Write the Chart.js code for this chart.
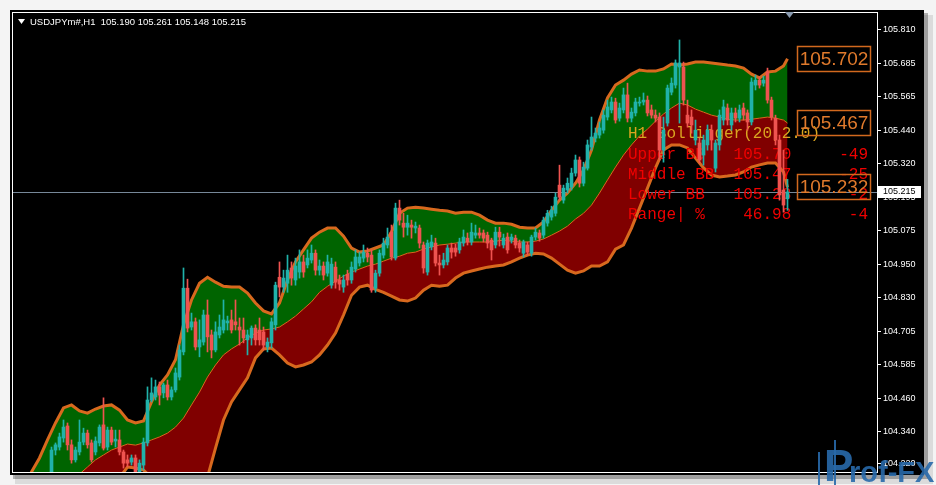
<!DOCTYPE html>
<html><head><meta charset="utf-8">
<script src="https://cdn.jsdelivr.net/npm/chart.js@4.4.0/dist/chart.umd.min.js"></script>
<style>html,body{margin:0;padding:0;background:#f0f0f0;overflow:hidden}canvas{display:block}</style>
</head><body>
<canvas id="c" width="936" height="485"></canvas>
<script>
// ---- DATA ----
const symbolTitle = 'USDJPYm#,H1';
const headerOHLC = ['105.190','105.261','105.148','105.215'];
const bidPrice = 105.215;
const priceTicks = [105.810,105.685,105.565,105.440,105.320,105.195,105.075,104.950,104.830,104.705,104.585,104.460,104.340,104.220];
const yMin = 104.1907, yMax = 105.8696;

const open = [104.00,104.02,104.05,104.03,104.08,104.11,104.09,104.14,104.13,
104.187,104.271,104.282,104.315,104.359,104.290,104.235,104.264,104.300,104.333,
104.297,104.264,104.297,104.363,104.282,104.344,104.304,104.308,104.264,104.235,
104.227,104.242,104.187,104.216,104.297,104.454,104.465,104.502,104.480,104.509,
104.465,104.491,104.538,104.630,104.863,104.721,104.740,104.648,104.666,104.765,
104.692,104.637,104.692,104.710,104.736,104.747,104.740,104.721,104.710,104.674,
104.681,104.717,104.710,104.703,104.648,104.663,104.729,104.903,104.867,104.881,
104.937,104.893,104.922,104.959,104.948,104.966,104.991,104.929,104.944,104.918,
104.874,104.940,104.893,104.867,104.914,104.893,104.933,104.955,104.973,104.991,
104.984,104.863,104.918,104.984,105.021,105.068,104.973,105.156,105.101,105.086,
105.094,105.083,105.083,105.021,104.922,105.014,105.028,104.955,104.948,104.959,
105.010,105.010,105.003,105.028,105.046,105.032,105.057,105.065,105.065,105.057,
105.039,105.021,105.068,105.021,105.050,105.039,105.046,105.028,104.991,105.021,
104.991,105.050,105.065,105.057,105.101,105.123,105.137,105.240,105.185,105.222,
105.233,105.284,105.332,105.247,105.302,105.379,105.412,105.423,105.441,105.489,
105.515,105.544,105.485,105.515,105.570,105.485,105.504,105.540,105.544,105.551,
105.515,105.496,105.489,105.368,105.467,105.580,105.606,105.672,105.672,105.496,
105.489,105.405,105.394,105.350,105.387,105.441,105.302,105.387,105.478,105.522,
105.460,105.504,105.485,105.522,105.504,105.471,105.606,105.624,105.613,105.654,
105.551,105.485,105.405,105.222,105.190];

const high = [104.04,104.06,104.08,104.09,104.12,104.14,104.15,104.17,104.18,
104.282,104.297,104.333,104.381,104.370,104.308,104.282,104.381,104.351,104.344,
104.308,104.319,104.363,104.462,104.355,104.355,104.344,104.344,104.271,104.253,
104.253,104.253,104.235,104.315,104.502,104.535,104.527,104.520,104.516,104.527,
104.502,104.571,104.655,104.937,104.896,104.772,104.754,104.747,104.783,104.820,
104.710,104.740,104.765,104.820,104.761,104.783,104.820,104.754,104.754,104.710,
104.725,104.729,104.754,104.721,104.681,104.754,104.885,104.959,104.929,104.984,
104.959,104.973,105.003,104.984,105.003,105.021,105.003,104.966,104.959,104.984,
104.973,104.959,104.911,104.911,104.929,104.959,105.003,104.995,105.021,105.010,
105.003,104.929,105.003,105.046,105.083,105.094,105.174,105.185,105.137,105.130,
105.112,105.105,105.094,105.032,105.039,105.057,105.046,104.984,104.991,105.021,
105.028,105.024,105.046,105.076,105.065,105.101,105.094,105.083,105.076,105.068,
105.046,105.086,105.086,105.061,105.065,105.061,105.057,105.039,105.039,105.032,
105.057,105.083,105.076,105.123,105.148,105.163,105.211,105.313,105.240,105.266,
105.302,105.350,105.343,105.324,105.405,105.489,105.449,105.471,105.515,105.551,
105.562,105.558,105.540,105.595,105.613,105.522,105.558,105.562,105.577,105.566,
105.533,105.515,105.504,105.489,105.606,105.632,105.698,105.771,105.690,105.551,
105.515,105.478,105.412,105.423,105.460,105.460,105.405,105.515,105.551,105.537,
105.522,105.522,105.533,105.540,105.515,105.632,105.643,105.635,105.639,105.668,
105.562,105.496,105.423,105.368,105.261];

const low = [103.97,104.00,104.01,104.02,104.06,104.07,104.08,104.11,104.12,
104.169,104.253,104.271,104.300,104.271,104.223,104.227,104.253,104.290,104.278,
104.227,104.253,104.286,104.271,104.271,104.290,104.282,104.253,104.205,104.209,
104.216,104.169,104.169,104.198,104.286,104.447,104.454,104.436,104.462,104.454,
104.454,104.483,104.527,104.619,104.703,104.710,104.637,104.612,104.655,104.630,
104.608,104.630,104.681,104.699,104.710,104.699,104.710,104.655,104.663,104.619,
104.655,104.655,104.655,104.637,104.630,104.644,104.710,104.831,104.848,104.848,
104.874,104.874,104.900,104.903,104.937,104.955,104.911,104.911,104.893,104.907,
104.863,104.863,104.856,104.848,104.874,104.881,104.922,104.944,104.959,104.959,
104.848,104.848,104.907,104.973,105.010,104.966,104.966,105.094,105.050,105.057,
105.046,105.065,105.010,104.918,104.911,105.003,104.944,104.911,104.937,104.948,
104.973,104.980,104.991,105.017,105.021,105.021,105.046,105.046,105.032,105.010,
104.966,105.010,105.017,105.010,104.991,105.028,105.010,104.995,104.977,104.984,
104.980,105.039,105.035,105.046,105.090,105.112,105.127,105.185,105.174,105.211,
105.222,105.273,105.233,105.237,105.295,105.368,105.398,105.412,105.430,105.478,
105.504,105.467,105.474,105.504,105.471,105.471,105.493,105.529,105.533,105.493,
105.485,105.471,105.332,105.324,105.456,105.570,105.595,105.467,105.533,105.452,
105.430,105.387,105.321,105.313,105.368,105.368,105.288,105.368,105.460,105.460,
105.441,105.471,105.471,105.478,105.441,105.460,105.588,105.595,105.602,105.540,
105.478,105.387,105.185,105.141,105.148];

const close = [104.02,104.05,104.03,104.08,104.11,104.09,104.14,104.13,104.17,
104.271,104.290,104.319,104.355,104.290,104.235,104.271,104.300,104.333,104.290,
104.235,104.304,104.355,104.278,104.344,104.300,104.311,104.264,104.223,104.223,
104.242,104.187,104.223,104.300,104.454,104.480,104.502,104.472,104.509,104.465,
104.491,104.553,104.637,104.863,104.717,104.740,104.648,104.674,104.765,104.685,
104.637,104.703,104.721,104.747,104.743,104.710,104.729,104.710,104.681,104.692,
104.717,104.674,104.674,104.655,104.666,104.740,104.874,104.867,104.900,104.929,
104.900,104.944,104.959,104.922,104.973,104.991,104.929,104.944,104.911,104.959,
104.951,104.885,104.878,104.893,104.893,104.940,104.977,104.977,104.995,104.977,
104.856,104.918,104.991,105.028,105.050,104.977,105.156,105.112,105.086,105.101,
105.086,105.090,105.028,104.937,105.028,105.032,104.955,104.948,104.966,105.010,
104.995,104.995,105.032,105.050,105.032,105.068,105.065,105.057,105.046,105.028,
105.003,105.068,105.050,105.046,105.003,105.050,105.021,105.010,105.032,104.995,
105.050,105.068,105.046,105.112,105.137,105.148,105.196,105.196,105.229,105.247,
105.284,105.332,105.247,105.306,105.387,105.416,105.430,105.449,105.496,105.526,
105.544,105.478,105.522,105.570,105.485,105.507,105.544,105.544,105.551,105.504,
105.496,105.485,105.368,105.441,105.595,105.613,105.687,105.687,105.551,105.467,
105.460,105.441,105.332,105.405,105.441,105.405,105.394,105.496,105.526,105.478,
105.504,105.485,105.515,105.496,105.471,105.617,105.624,105.606,105.624,105.551,
105.489,105.405,105.204,105.167,105.215];

const bandX = [0,2,4,6,8,10,12,14,16,18,20,22,24,26,28,30,32,34,36,38,40,42,44,46,48,50,52,54,56,58,
60,62,64,66,68,70,72,74,76,78,80,82,84,86,88,90,92,94,96,98,100,102,104,106,108,110,112,114,116,118,
120,122,124,126,128,130,132,134,136,138,140,142,144,146,148,150,152,154,156,158,160,162,164,166,168,170,
172,174,176,178,180,182,184,186,188,190,192,193];

const upperBB = [104.051,104.125,104.191,104.242,104.308,104.370,104.425,104.436,104.414,104.406,
104.421,104.432,104.436,104.417,104.381,104.370,104.377,104.447,104.509,104.546,
104.601,104.729,104.820,104.881,104.903,104.885,104.870,104.867,104.867,104.845,
104.809,104.780,104.769,104.809,104.893,104.959,105.003,105.046,105.068,105.083,
105.083,105.053,105.010,104.995,104.999,105.010,105.021,105.068,105.137,105.156,
105.159,105.156,105.152,105.148,105.145,105.137,105.141,105.141,105.130,105.112,
105.101,105.101,105.097,105.086,105.083,105.083,105.105,105.148,105.185,105.211,
105.247,105.295,105.368,105.478,105.559,105.606,105.624,105.646,105.661,105.657,
105.657,105.665,105.683,105.679,105.683,105.690,105.690,105.687,105.683,105.679,
105.676,105.668,105.646,105.632,105.654,105.657,105.676,105.702];

const middleBB = [103.978,104.008,104.033,104.059,104.088,104.114,104.136,104.161,104.183,104.209,
104.235,104.253,104.271,104.282,104.293,104.289,104.297,104.308,104.319,104.333,
104.355,104.388,104.436,104.483,104.538,104.582,104.619,104.641,104.659,104.681,
104.699,104.710,104.714,104.721,104.740,104.761,104.787,104.813,104.848,104.870,
104.889,104.907,104.922,104.933,104.944,104.951,104.962,104.973,104.980,104.991,
104.995,105.006,105.014,105.021,105.024,105.028,105.032,105.032,105.032,105.032,
105.035,105.039,105.035,105.032,105.032,105.035,105.043,105.057,105.072,105.090,
105.116,105.137,105.167,105.211,105.259,105.306,105.350,105.387,105.420,105.445,
105.474,105.500,105.522,105.540,105.533,105.518,105.507,105.496,105.489,105.481,
105.478,105.478,105.481,105.485,105.489,105.485,105.478,105.467];

const lowerBB = [103.905,103.890,103.876,103.876,103.869,103.858,103.847,103.887,103.953,104.011,
104.048,104.073,104.106,104.169,104.209,104.205,104.198,104.169,104.128,104.121,
104.110,104.048,104.051,104.088,104.172,104.278,104.381,104.447,104.491,104.535,
104.608,104.641,104.644,104.619,104.589,104.575,104.582,104.593,104.619,104.655,
104.699,104.765,104.837,104.867,104.874,104.859,104.848,104.834,104.820,104.816,
104.827,104.856,104.874,104.870,104.874,104.900,104.918,104.926,104.933,104.940,
104.944,104.948,104.959,104.973,104.984,104.991,104.988,104.973,104.951,104.929,
104.918,104.926,104.944,104.944,104.959,105.006,105.021,105.083,105.156,105.229,
105.303,105.369,105.387,105.387,105.376,105.339,105.303,105.277,105.270,105.273,
105.277,105.288,105.306,105.314,105.321,105.321,105.288,105.232];

const boxValues = [105.702, 105.467, 105.232];
const infoTitle = 'H1 Bollinger(20,2.0)';
const infoLabels = ['Upper BB','Middle BB','Lower BB','Range| %'];
const infoValues = ['105.70','105.47','105.23','46.98'];
const infoChanges = ['-49','-25','-2','-4'];

// ---- STYLE ----
const BULL = '#20B2AA', BEAR = '#EF5350';
const BAND = '#D8691E';
const candleColor = i => close[i] >= open[i] ? BULL : BEAR;
const wickData = open.map((_, i) => ({x: i, y: [low[i], high[i]]}));
const bodyData = open.map((_, i) => ({x: i, y: [open[i], close[i]]}));
const pts = arr => bandX.map((x, k) => ({x: x, y: arr[k]}));

const mt4 = {
  id: 'mt4',
  beforeDraw(chart) {
    const c = chart.ctx, a = chart.chartArea;
    c.save();
    c.fillStyle = '#f4f4f4'; c.fillRect(0, 0, chart.width, chart.height);
    c.fillStyle = 'rgba(0,0,0,0.28)'; c.fillRect(13, 13, 915, 466);
    c.fillStyle = 'rgba(0,0,0,0.10)'; c.fillRect(15, 15, 918, 469);
    c.fillStyle = '#000'; c.fillRect(10, 10, 914, 465);
    c.fillStyle = '#ffffff';
    c.fillRect(a.left - 1, a.top - 1, a.right - a.left + 2, 1);
    c.fillRect(a.left - 1, a.top - 1, 1, a.bottom - a.top + 2);
    c.fillRect(a.left - 1, a.bottom, a.right - a.left + 2, 1);
    c.fillRect(a.right, a.top - 1, 1, a.bottom - a.top + 2);
    c.restore();
  },
  beforeDatasetsDraw(chart) {
    const c = chart.ctx, a = chart.chartArea;
    const y = Math.round(chart.scales.y.getPixelForValue(bidPrice)) + 0.5;
    c.save();
    c.strokeStyle = '#778899'; c.lineWidth = 1;
    c.beginPath(); c.moveTo(a.left, y); c.lineTo(a.right, y); c.stroke();
    c.restore();
  },
  beforeDatasetDraw(chart, args) {
    if (args.index !== 3) return;
    const c = chart.ctx;
    c.save();
    c.font = '16px "Liberation Mono"';
    c.textBaseline = 'middle'; c.textAlign = 'left';
    c.fillStyle = '#DAA520';
    c.fillText(infoTitle, 628, 134);
    c.fillStyle = '#F00000';
    infoLabels.forEach((lab, k) => {
      const s = lab.padEnd(11) + infoValues[k].padStart(6) + infoChanges[k].padStart(8);
      c.fillText(s, 628, 155 + 20 * k);
    });
    c.restore();
  },
  afterDraw(chart) {
    const c = chart.ctx, ys = chart.scales.y;
    c.save();
    // price boxes
    c.font = '19px "Liberation Sans"';
    c.textAlign = 'center'; c.textBaseline = 'middle';
    boxValues.forEach(v => {
      const y = Math.round(ys.getPixelForValue(v));
      c.strokeStyle = '#D2691E'; c.lineWidth = 1.5;
      c.strokeRect(797.5, y - 12.5, 73, 25);
      c.fillStyle = '#E07A2C';
      c.fillText(v.toFixed(3), 834, y + 1);
    });
    // bid label on axis
    const yb = Math.round(ys.getPixelForValue(bidPrice));
    c.fillStyle = '#ffffff'; c.fillRect(878, yb - 6, 43, 12);
    c.fillStyle = '#000000'; c.font = '9px "Liberation Sans"';
    c.textAlign = 'left'; c.fillText(bidPrice.toFixed(3), 883, yb);
    // header
    c.fillStyle = '#ffffff';
    c.beginPath(); c.moveTo(18, 19); c.lineTo(25, 19); c.lineTo(21.5, 24); c.closePath(); c.fill();
    c.font = '9.5px "Liberation Sans"'; c.textBaseline = 'middle';
    c.fillText(symbolTitle + '  ' + headerOHLC.join(' '), 30, 22);
    // chart shift marker
    c.fillStyle = '#8a9bb0';
    c.beginPath(); c.moveTo(785, 12); c.lineTo(794, 12); c.lineTo(789.5, 18); c.closePath(); c.fill();
    // watermark
    c.textBaseline = 'alphabetic';
    c.fillStyle = 'rgba(40,105,170,0.9)';
    c.fillRect(818, 452, 2, 33);
    c.fillRect(834, 440, 2, 45);
    c.font = 'bold 44px "Liberation Sans"'; c.fillText('P', 824, 481);
    c.font = 'bold 29px "Liberation Sans"'; c.fillText('rof-FX', 849, 482);
    c.restore();
  }
};

Chart.defaults.font.family = '"Liberation Sans", Arial, sans-serif';
new Chart(document.getElementById('c'), {
  type: 'bar',
  data: {
    datasets: [
      {type: 'line', data: pts(upperBB), borderColor: BAND, borderWidth: 3, pointRadius: 0, tension: 0,
       fill: {target: '+1', above: '#006400', below: '#006400'}, order: 12, clip: 0},
      {type: 'line', data: pts(middleBB), borderColor: BAND, borderWidth: 1, pointRadius: 0, tension: 0,
       fill: {target: '+1', above: '#800000', below: '#800000'}, order: 11, clip: 0},
      {type: 'line', data: pts(lowerBB), borderColor: BAND, borderWidth: 3, pointRadius: 0, tension: 0,
       fill: false, order: 10, clip: 0},
      {type: 'bar', data: wickData, backgroundColor: ctx => candleColor(ctx.dataIndex), borderWidth: 0,
       barThickness: 1, grouped: false, order: 1, clip: 0},
      {type: 'bar', data: bodyData, backgroundColor: ctx => candleColor(ctx.dataIndex), borderWidth: 0,
       barThickness: 3, minBarLength: 1, grouped: false, order: 0, clip: 0}
    ]
  },
  options: {
    responsive: false, animation: false, devicePixelRatio: 1, events: [],
    layout: {padding: {left: 13, top: 13, right: 13, bottom: 13}},
    plugins: {legend: {display: false}, tooltip: {enabled: false}},
    scales: {
      x: {type: 'linear', min: -0.625, max: 215.375, offset: false, display: false},
      y: {type: 'linear', position: 'right', min: yMin, max: yMax,
          afterBuildTicks: s => { s.ticks = priceTicks.map(v => ({value: v})); },
          afterFit: s => { s.width = 46; },
          grid: {display: true, drawOnChartArea: false, drawTicks: true, tickLength: 4, color: '#ffffff'},
          border: {display: false},
          ticks: {color: '#ffffff', font: {size: 9}, padding: 2, autoSkip: false,
                  callback: v => Number(v).toFixed(3)}}
    }
  },
  plugins: [mt4]
});
</script>
</body></html>
